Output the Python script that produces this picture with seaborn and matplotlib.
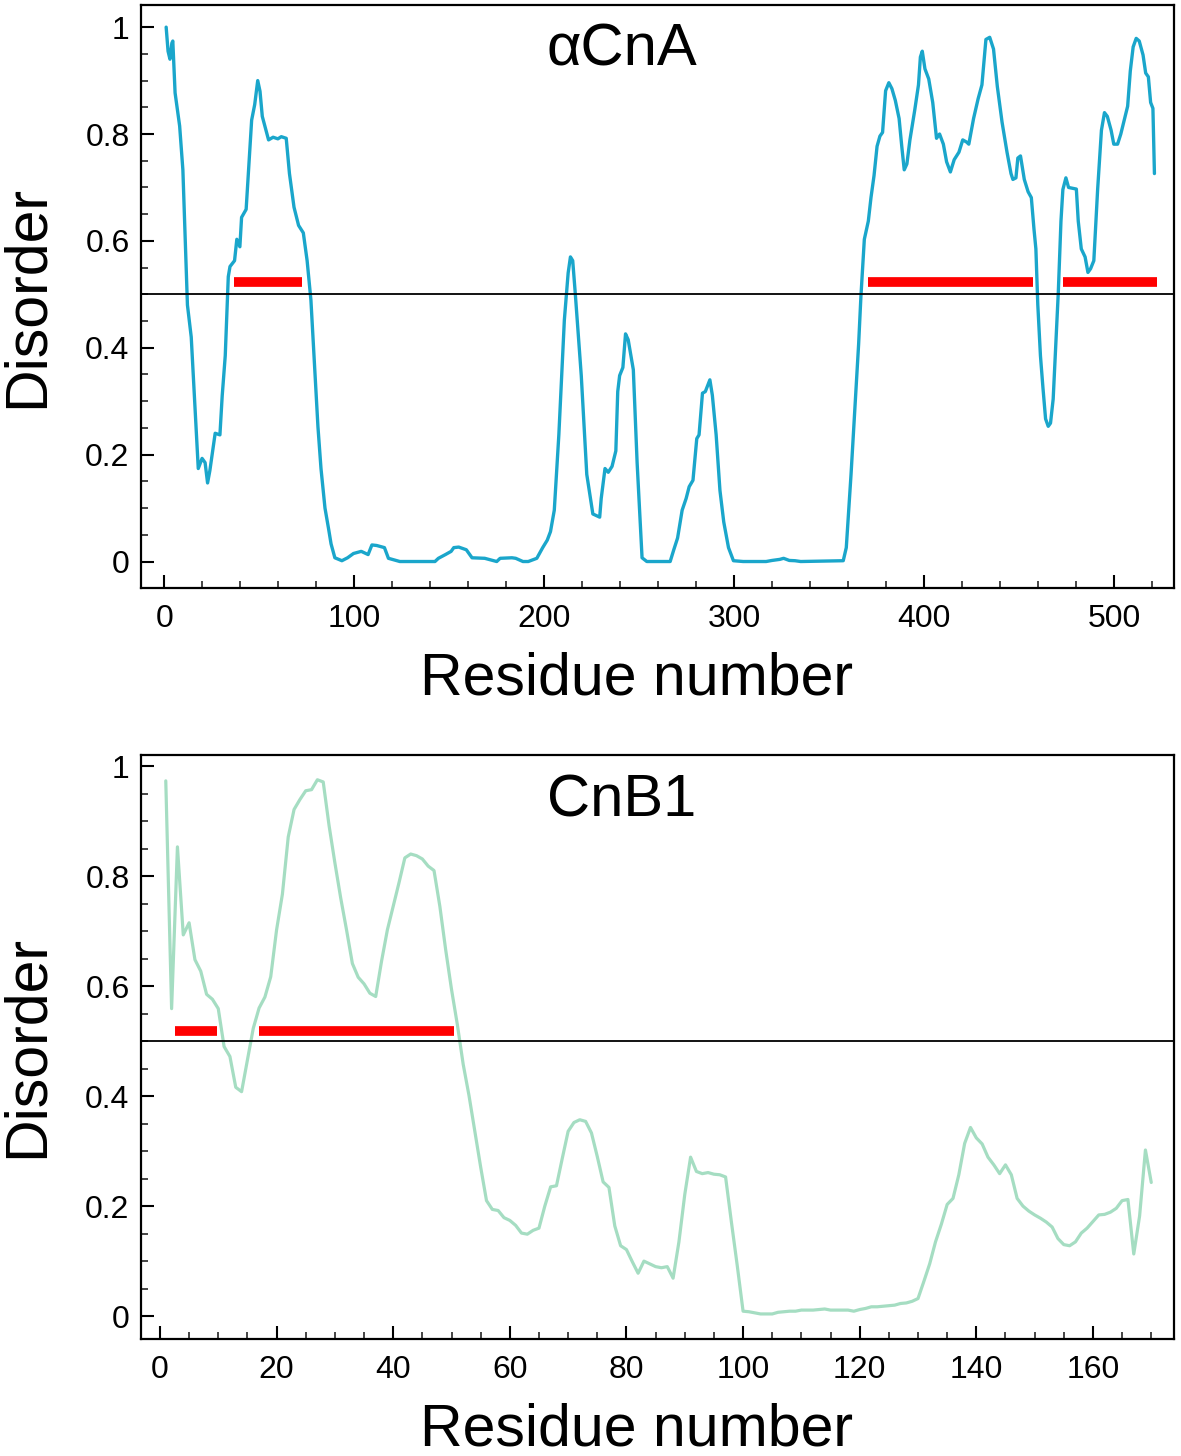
import numpy as np
import pandas as pd
import matplotlib
matplotlib.use("Agg")
import matplotlib.pyplot as plt
from matplotlib.ticker import MultipleLocator, FuncFormatter
import seaborn as sns

# ---------------- data ----------------
# alpha-CnA disorder profile (residue, score)
cna_res = [1, 2, 3, 4, 4.5, 5.7, 8.1, 9.8, 12.2, 14.2, 16.3, 17.9, 19.9, 21.5, 22.8, 24,
           26.8, 29.3, 30.5, 32.1, 33.7, 34.6, 37, 38.2, 39.8, 40.7, 43.1, 46, 47.6, 49.2,
           50.4, 51.6, 54.9, 57.3, 59.8, 61.6, 64.2, 65.9, 68.3, 70.7, 73.2, 75.2, 77.2,
           79.3, 80.9, 82.5, 84.6, 86.6, 87.8, 89.8, 93.5, 96.5, 99.6, 103.7, 107.3, 109.3,
           111.8, 115.9, 118, 124, 142.5, 144.3, 148, 151, 152.4, 155, 159, 162, 168.7, 175,
           176.8, 183, 185, 188.8, 191.6, 196.1, 199.2, 201.6, 203.3, 205.3, 207.7, 210.6,
           212.6, 213.8, 215, 216.3, 219.5, 222.4, 225.6, 229.2, 230, 232, 233.7, 235.7,
           237.7, 238.7, 239.7, 241.4, 242.8, 244.2, 246.9, 248.9, 251.5, 254, 266.3, 268.2,
           270.2, 272.6, 274.7, 276.3, 278.3, 280.3, 281.5, 283.3, 284.8, 287.2, 288.5, 290.5,
           292.5, 294.5, 297, 299.6, 304.7, 310.7, 316.8, 319.9, 324, 326, 329, 332, 335,
           357.4, 359, 361.5, 363.9, 365.5, 366.7, 368.5, 370.6, 372, 373.6, 375.2, 376.7,
           378.1, 379.7, 381.4, 383, 384.8, 386.8, 388.2, 389.5, 390.9, 392.5, 395, 397, 398,
           399, 400.4, 402.4, 404.5, 406.5, 408.1, 410.1, 411.8, 413.8, 415.8, 418.3, 420.3,
           422.3, 423.5, 426, 428.4, 430.4, 432.5, 434.5, 436.5, 438.5, 441, 443.6, 445.7,
           446.7, 448.3, 449.3, 450.7, 452.7, 454.7, 456.4, 457.8, 458.8, 459.8, 461.2, 462.5,
           463.9, 465.3, 466.5, 467.9, 469.3, 470.6, 472, 473, 474.6, 476, 480.1, 481.1,
           482.7, 484.7, 486.2, 487.6, 489.3, 491.3, 493.3, 494.9, 496.4, 498.4, 499.8, 501.8,
           503.5, 505.5, 507.1, 508.5, 510, 511.6, 513.2, 515.2, 516.6, 518, 519.2, 520.4,
           521.2]
cna_dis = [1.0, 0.955, 0.94, 0.97, 0.974, 0.877, 0.815, 0.733, 0.48, 0.42, 0.28, 0.174,
           0.193, 0.185, 0.147, 0.17, 0.24, 0.237, 0.31, 0.385, 0.533, 0.552, 0.563, 0.603,
           0.589, 0.644, 0.659, 0.826, 0.855, 0.9, 0.88, 0.833, 0.789, 0.794, 0.791, 0.795,
           0.792, 0.726, 0.663, 0.629, 0.615, 0.563, 0.489, 0.355, 0.252, 0.174, 0.1, 0.059,
           0.033, 0.007, 0.0015, 0.007, 0.015, 0.019, 0.013, 0.031, 0.03, 0.026, 0.006, 0.0,
           0.0, 0.006, 0.013, 0.019, 0.026, 0.027, 0.022, 0.007, 0.006, 0.0, 0.006, 0.007,
           0.006, 0.0, 0.0, 0.006, 0.026, 0.04, 0.056, 0.096, 0.237, 0.452, 0.54, 0.57, 0.563,
           0.504, 0.348, 0.163, 0.089, 0.083, 0.118, 0.174, 0.167, 0.178, 0.207, 0.318, 0.348,
           0.363, 0.426, 0.415, 0.359, 0.185, 0.007, 0.0, 0.0, 0.022, 0.044, 0.096, 0.118,
           0.14, 0.152, 0.23, 0.237, 0.315, 0.318, 0.34, 0.311, 0.237, 0.133, 0.074, 0.026,
           0.0015, 0.0, 0.0, 0.0, 0.002, 0.004, 0.006, 0.002, 0.0015, 0.0, 0.0015, 0.026,
           0.163, 0.311, 0.407, 0.496, 0.603, 0.637, 0.681, 0.722, 0.777, 0.796, 0.803, 0.881,
           0.896, 0.885, 0.863, 0.829, 0.777, 0.733, 0.744, 0.789, 0.844, 0.892, 0.944, 0.955,
           0.922, 0.903, 0.859, 0.792, 0.8, 0.781, 0.748, 0.729, 0.752, 0.766, 0.789, 0.785,
           0.781, 0.829, 0.866, 0.892, 0.977, 0.981, 0.959, 0.889, 0.822, 0.766, 0.726, 0.715,
           0.718, 0.755, 0.759, 0.715, 0.692, 0.681, 0.622, 0.585, 0.481, 0.385, 0.326, 0.267,
           0.253, 0.259, 0.304, 0.407, 0.504, 0.637, 0.696, 0.718, 0.7, 0.697, 0.637, 0.585,
           0.57, 0.541, 0.548, 0.563, 0.696, 0.807, 0.84, 0.833, 0.807, 0.781, 0.781, 0.8,
           0.829, 0.852, 0.918, 0.963, 0.979, 0.974, 0.948, 0.914, 0.907, 0.859, 0.848, 0.726]

# CnB1 disorder profile, residues 1..170
cnb_res = list(range(1, 171))
cnb_dis = [0.973, 0.559, 0.853, 0.693, 0.715, 0.648, 0.627, 0.585, 0.576, 0.559,
           0.49, 0.472, 0.416, 0.408, 0.465, 0.523, 0.56, 0.58, 0.617, 0.702,
           0.767, 0.871, 0.921, 0.939, 0.955, 0.957, 0.975, 0.971, 0.892, 0.824,
           0.76, 0.702, 0.641, 0.616, 0.604, 0.587, 0.581, 0.645, 0.702, 0.745,
           0.788, 0.833, 0.84, 0.837, 0.831, 0.818, 0.81, 0.745, 0.666, 0.594,
           0.53, 0.458, 0.401, 0.336, 0.271, 0.21, 0.194, 0.192, 0.179, 0.174,
           0.165, 0.151, 0.149, 0.156, 0.16, 0.2, 0.235, 0.237, 0.287, 0.336,
           0.352, 0.357, 0.354, 0.333, 0.29, 0.244, 0.234, 0.164, 0.128, 0.121,
           0.099, 0.078, 0.1, 0.095, 0.09, 0.088, 0.09, 0.069, 0.135, 0.221,
           0.289, 0.263, 0.259, 0.261, 0.258, 0.257, 0.253, 0.171, 0.092, 0.009,
           0.008, 0.006, 0.004, 0.004, 0.004, 0.007, 0.008, 0.009, 0.009, 0.011,
           0.011, 0.011, 0.012, 0.013, 0.011, 0.011, 0.011, 0.011, 0.009, 0.012,
           0.014, 0.017, 0.017, 0.018, 0.019, 0.02, 0.023, 0.024, 0.027, 0.032,
           0.063, 0.095, 0.135, 0.167, 0.203, 0.214, 0.257, 0.314, 0.343, 0.324,
           0.313, 0.289, 0.275, 0.259, 0.275, 0.257, 0.214, 0.2, 0.191, 0.184,
           0.178, 0.171, 0.162, 0.141, 0.13, 0.128, 0.135, 0.151, 0.16, 0.172,
           0.184, 0.185, 0.189, 0.196, 0.21, 0.212, 0.113, 0.182, 0.302, 0.243]

# disordered-region bars (start, end)
cna_bar_start = [36.9, 370.2, 473.0]
cna_bar_end = [72.6, 457.2, 522.4]
cnb_bar_start = [2.5, 17.0]
cnb_bar_end = [9.7, 50.4]
bar_level = [0.524, 0.519]
threshold = 0.5

titles = ["\u03b1CnA", "CnB1"]
xlabel = "Residue number"
ylabel = "Disorder"

# ---------------- style ----------------
sns.set_theme(style="ticks")
plt.rcParams["font.family"] = ["Liberation Sans", "DejaVu Sans"]
plt.rcParams["axes.linewidth"] = 1.6

W, H = 1181, 1456
fig = plt.figure(figsize=(W / 100, H / 100), dpi=100)

def frac_box(l, t, r, b):
    return [l / W, 1 - b / H, (r - l) / W, (b - t) / H]

ax1 = fig.add_axes(frac_box(140.7, 4.7, 1174, 587.7))
ax2 = fig.add_axes(frac_box(140.7, 755, 1174, 1338.7))

df1 = pd.DataFrame({"res": cna_res, "dis": cna_dis})
df2 = pd.DataFrame({"res": cnb_res, "dis": cnb_dis})

sns.lineplot(data=df1, x="res", y="dis", ax=ax1, color="#1AA6CB", lw=2.4,
             sort=False, estimator=None)
sns.lineplot(data=df2, x="res", y="dis", ax=ax2, color="#A5DDC2", lw=2.3,
             sort=False, estimator=None)

for ax, starts, ends, lvl in [(ax1, cna_bar_start, cna_bar_end, bar_level[0]),
                              (ax2, cnb_bar_start, cnb_bar_end, bar_level[1])]:
    ax.hlines([lvl] * len(starts), starts, ends, colors="#FF0000", lw=7,
              capstyle="butt", zorder=3)
    ax.axhline(threshold, color="black", lw=1.3, zorder=2)

ax1.set_xlim(-12.4, 531.5)
ax1.set_ylim(-0.049, 1.042)
ax2.set_xlim(-3.3, 173.9)
ax2.set_ylim(-0.041, 1.02)

ax1.xaxis.set_major_locator(MultipleLocator(100))
ax1.xaxis.set_minor_locator(MultipleLocator(20))
ax2.xaxis.set_major_locator(MultipleLocator(20))
ax2.xaxis.set_minor_locator(MultipleLocator(5))

fmt = FuncFormatter(lambda v, p: f"{v:g}")
for ax, title in zip([ax1, ax2], titles):
    ax.yaxis.set_major_locator(MultipleLocator(0.2))
    ax.yaxis.set_minor_locator(MultipleLocator(0.05))
    ax.yaxis.set_major_formatter(fmt)
    ax.tick_params(axis="both", which="major", direction="in", length=9.5, width=1.5,
                   labelsize=23, colors="black")
    ax.tick_params(axis="both", which="minor", direction="in", length=5, width=1.2)
    ax.tick_params(axis="x", which="major", pad=12)
    ax.tick_params(axis="y", which="major", pad=8)
    ax.tick_params(top=False, right=False, which="both")
    for s in ax.spines.values():
        s.set_visible(True)
        s.set_color("black")
        s.set_linewidth(1.6)
    ax.set_xlabel(xlabel, fontsize=42.5, color="black")
    ax.set_ylabel(ylabel, fontsize=42.5, color="black")
    ax.xaxis.set_label_coords(0.48, -0.11)
    ax.yaxis.set_label_coords(-0.083, 0.5)
    ax.text(0.393, 0.895, title, transform=ax.transAxes, fontsize=43,
            ha="left", va="baseline", color="black")
    ax.grid(False)

fig.savefig("out.png", dpi=100, facecolor="white")
